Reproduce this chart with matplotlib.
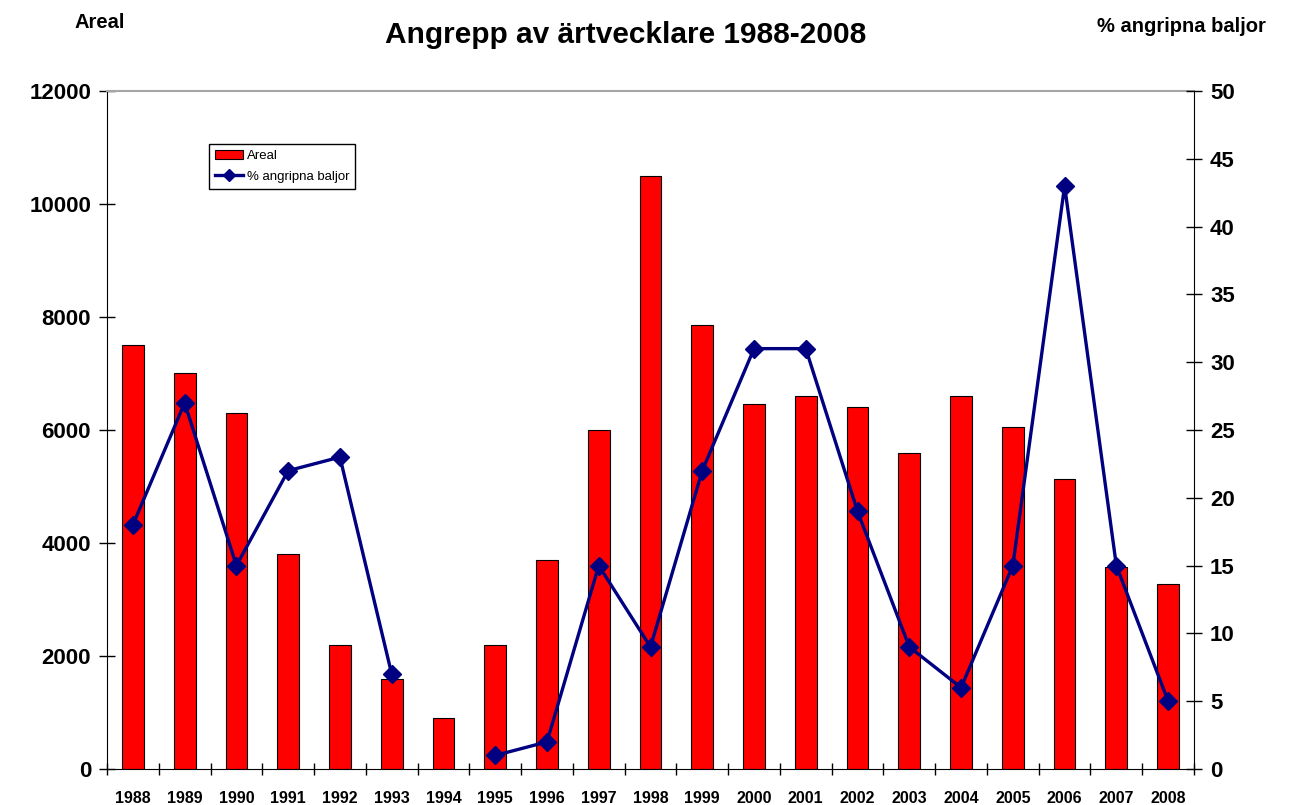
import numpy as np
import matplotlib.pyplot as plt

plt.rcParams['font.family'] = ['Liberation Sans', 'DejaVu Sans']

# data
years = [str(y) for y in range(1988, 2009)]
areal = [7500, 7000, 6300, 3800, 2200, 1600, 900, 2200, 3700, 6000, 10500,
         7850, 6460, 6600, 6400, 5600, 6600, 6050, 5130, 3580, 3270]
angripna = [18, 27, 15, 22, 23, 7, np.nan, 1, 2, 15, 9,
            22, 31, 31, 19, 9, 6, 15, 43, 15, 5]

fig = plt.figure(figsize=(13.03, 8.05), dpi=100)
ax = fig.add_axes([107/1303, 1 - 769/805, (1194 - 107)/1303, (769 - 91)/805])
x = np.arange(len(years))

ax.bar(x, areal, width=0.42, color='#ff0000', edgecolor='black', linewidth=0.8,
       label='Areal', zorder=2)
ax.set_xlim(-0.5, len(years) - 0.5)
ax.set_ylim(0, 12000)
ax.set_yticks(np.arange(0, 12001, 2000))
ax.set_xticks(x)
ax.set_xticklabels(years, fontsize=11.5, fontweight='bold')
ax.set_xticks(np.arange(-0.5, len(years), 1), minor=True)
ax.tick_params(axis='x', which='major', length=0, pad=16)
ax.tick_params(axis='x', which='minor', direction='inout', length=8, width=1)
ax.tick_params(axis='y', direction='inout', length=11, width=1, pad=6,
               labelsize=16)
for t in ax.get_yticklabels():
    t.set_fontweight('bold')
ax.spines['top'].set_color('#a6a6a6')
ax.spines['top'].set_linewidth(1.5)
ax.spines['right'].set_visible(False)

ax2 = ax.twinx()
ax2.plot(x, angripna, color='#000080', linewidth=2.4, marker='D',
         markersize=9, label='% angripna baljor', zorder=3)
ax2.set_ylim(0, 50)
ax2.set_yticks(np.arange(0, 51, 5))
ax2.tick_params(axis='y', direction='inout', length=11, width=1, pad=6,
                labelsize=16)
for t in ax2.get_yticklabels():
    t.set_fontweight('bold')
for s in ['top', 'left', 'bottom']:
    ax2.spines[s].set_visible(False)

h1, l1 = ax.get_legend_handles_labels()
h2, l2 = ax2.get_legend_handles_labels()
leg = ax2.legend(h1 + h2, l1 + l2, loc='upper left',
                 bbox_to_anchor=(209/1303, 1 - 144/805),
                 bbox_transform=fig.transFigure, borderaxespad=0,
                 fancybox=False, edgecolor='black', framealpha=1,
                 fontsize=9.5, handlelength=2.1, handletextpad=0.3,
                 labelspacing=0.65, borderpad=0.45, markerscale=0.65)
leg.get_frame().set_linewidth(1)

fig.text(626/1303, 1 - 35/805, 'Angrepp av ärtvecklare 1988-2008',
         ha='center', va='center', fontsize=21.5, fontweight='bold')
fig.text(100/1303, 1 - 22/805, 'Areal', ha='center', va='center',
         fontsize=14.5, fontweight='bold')
fig.text(1181/1303, 1 - 27/805, '% angripna baljor', ha='center',
         va='center', fontsize=14.5, fontweight='bold')

fig.savefig('out.png', dpi=100)
